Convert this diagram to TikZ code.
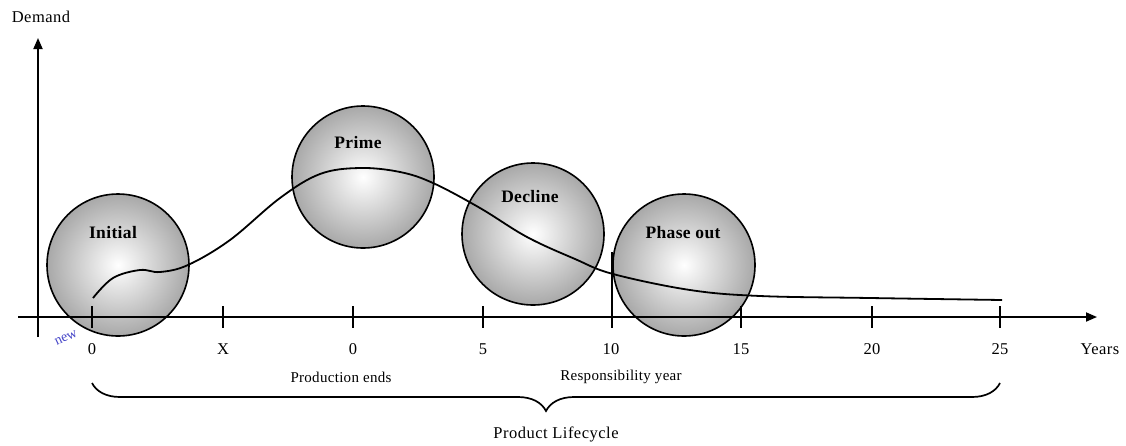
\documentclass[tikz,border=0pt]{standalone}
\usepackage{fontspec}
\setmainfont{Liberation Serif}
\usetikzlibrary{arrows.meta,decorations.pathreplacing,shadings}

\begin{document}
\begin{tikzpicture}[x=1pt,y=-1pt,
  ball/.style={circle,draw=black,line width=1.6pt,shading=radial,
    inner color=white,outer color=black!34,minimum size=142pt,inner sep=0pt},
  phase/.style={font=\fontsize{17.5}{19}\selectfont\bfseries\addfontfeature{LetterSpace=2}},
  lbl/.style={font=\fontsize{16.5}{18}\selectfont\addfontfeature{LetterSpace=3}},
  small/.style={font=\fontsize{15}{17}\selectfont\addfontfeature{LetterSpace=2}},
  axis/.style={line width=1.8pt,-{Triangle[length=11pt,width=9pt]}},
  tickmark/.style={line width=1.8pt},
  curve/.style={line width=1.8pt},
  lifebrace/.style={line width=1.7pt,decorate,decoration={brace,amplitude=28pt,mirror}}]

\useasboundingbox (0,0) rectangle (1126,445);

% phase circles
\node[ball] (initial) at (118,265) {};
\node[ball] (prime)   at (363,177) {};
\node[ball] (decline) at (533,234) {};
\node[ball] (phaseout) at (684,265) {};

\node[phase] (initialT)  at (113,233) {Initial};
\node[phase] (primeT)    at (358,143) {Prime};
\node[phase] (declineT)  at (530,197) {Decline};
\node[phase] (phaseoutT) at (683,233) {Phase out};

% demand curve
\draw[curve] plot[smooth,tension=0.6] coordinates {(93,298) (113,278) (140,270) (160,272) (188,265) (230,240) (280,198) (320,174) (360,168) (400,172) (433,183) (480,208) (527,237) (575,259) (613,274) (690,290) (760,296) (870,298) (1002,300)};

% axes
\coordinate (yfoot) at (38,337);
\coordinate (ytop)  at (38,38);
\coordinate (xfoot) at (18,317);
\coordinate (xend)  at (1097,317);
\draw[axis] (yfoot) -- (ytop);
\draw[axis] (xfoot) -- (xend);
\node[lbl] (demand) at (41,17) {Demand};
\node[lbl] (years) at (1100,349) {Years};

% ticks and their labels
\foreach \x/\t/\n in {92/0/a,223/X/b,353/0/c,483/5/d,741/15/f,872/20/g,1000/25/h}{
  \coordinate (tt\n) at (\x,306);
  \coordinate (tb\n) at (\x,328);
  \draw[tickmark] (tt\n) -- (tb\n);
  \node[lbl] (tl\n) at (\x,349) {\t};
}
\coordinate (tte) at (612,252);
\coordinate (tbe) at (612,328);
\draw[tickmark] (tte) -- (tbe);
\node[lbl] (tle) at (611,349) {10};

\node[inner sep=0pt,font=\fontsize{14}{15}\selectfont,
  text={rgb,255:red,70;green,70;blue,200},rotate=25] (newT) at (66,338) {new};

\node[small] (prodEnds) at (341,377) {Production ends};
\node[small] (respYear) at (621,377) {Responsibility year};

% lifecycle brace
\coordinate (braceL) at (92,383);
\coordinate (braceR) at (1000,383);
\draw[lifebrace] (braceL) -- (braceR);
\node[lbl] (lifecycle) at (556,434) {Product Lifecycle};

\end{tikzpicture}
\end{document}
